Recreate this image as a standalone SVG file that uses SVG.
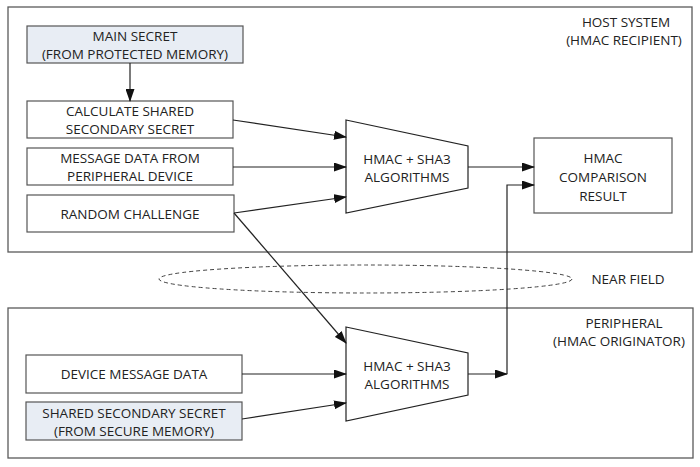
<svg xmlns="http://www.w3.org/2000/svg" width="700" height="467" viewBox="0 0 700 467">
<defs>
<marker id="ah" markerUnits="userSpaceOnUse" markerWidth="13" markerHeight="9" viewBox="0 0 13 9" refX="12" refY="4.5" orient="auto">
<path d="M0,0 L13,4.5 L0,9 z" fill="#111"/>
</marker>
<style>
.frame{fill:none;stroke:#5a5a5a;stroke-width:1.3}
.box{fill:#fff;stroke:#555;stroke-width:1.2}
.sec{fill:#e8edf4;stroke:#555;stroke-width:1.2}
.alg{fill:#fff;stroke:#222;stroke-width:1.2}
.t{font-family:"Open Sans","Noto Sans",sans-serif;font-size:13.5px;fill:#222;text-anchor:middle}
.c{fill:none;stroke:#222;stroke-width:1.2}
.a{marker-end:url(#ah)}
</style>
</defs>
<rect width="700" height="467" fill="#fff"/>
<g id="host-system">
<rect class="frame" x="8" y="7" width="684" height="245"/>
<text class="t" x="626" y="27">HOST SYSTEM</text>
<text class="t" x="624" y="44.5">(HMAC RECIPIENT)</text>
</g>
<g id="peripheral">
<rect class="frame" x="8" y="308" width="685" height="150"/>
<text class="t" x="624" y="327.5">PERIPHERAL</text>
<text class="t" x="619" y="345.5">(HMAC ORIGINATOR)</text>
</g>
<g id="near-field">
<ellipse cx="365.5" cy="279" rx="206.5" ry="14" fill="none" stroke="#444" stroke-width="1" stroke-dasharray="4,3"/>
<text class="t" x="628" y="284">NEAR FIELD</text>
</g>
<g id="main-secret">
<rect class="sec" x="27" y="26" width="216" height="37"/>
<text class="t" x="135" y="40.5">MAIN SECRET</text>
<text class="t" x="135" y="58.5">(FROM PROTECTED MEMORY)</text>
</g>
<g id="calc-shared">
<rect class="box" x="27" y="101" width="206" height="37"/>
<text class="t" x="130" y="115.5">CALCULATE SHARED</text>
<text class="t" x="130" y="133.5">SECONDARY SECRET</text>
</g>
<g id="message-data">
<rect class="box" x="27" y="148" width="206" height="37"/>
<text class="t" x="130" y="162.5">MESSAGE DATA FROM</text>
<text class="t" x="130" y="180.5">PERIPHERAL DEVICE</text>
</g>
<g id="random-challenge">
<rect class="box" x="27" y="195" width="207" height="37"/>
<text class="t" x="130" y="218.5">RANDOM CHALLENGE</text>
</g>
<g id="host-hmac">
<polygon class="alg" points="346,120 468,146 468,188 346,213"/>
<text class="t" x="407" y="163.5">HMAC + SHA3</text>
<text class="t" x="407" y="181.5">ALGORITHMS</text>
</g>
<g id="comparison">
<rect class="box" x="534" y="138" width="138" height="75"/>
<text class="t" x="603" y="163">HMAC</text>
<text class="t" x="603" y="182">COMPARISON</text>
<text class="t" x="603" y="201">RESULT</text>
</g>
<g id="device-message">
<rect class="box" x="26" y="355" width="216" height="38"/>
<text class="t" x="134" y="379">DEVICE MESSAGE DATA</text>
</g>
<g id="shared-secret">
<rect class="sec" x="26" y="402" width="216" height="38"/>
<text class="t" x="134" y="417.5">SHARED SECONDARY SECRET</text>
<text class="t" x="134" y="435.5">(FROM SECURE MEMORY)</text>
</g>
<g id="peripheral-hmac">
<polygon class="alg" points="346,327 468,353 468,395 346,421"/>
<text class="t" x="407" y="370.5">HMAC + SHA3</text>
<text class="t" x="407" y="388.5">ALGORITHMS</text>
</g>
<g id="connectors">
<line class="c a" x1="130" y1="63" x2="130" y2="101"/>
<line class="c a" x1="233" y1="120" x2="346" y2="137"/>
<line class="c a" x1="233" y1="167" x2="346" y2="167"/>
<line class="c a" x1="234" y1="213" x2="346" y2="197"/>
<line class="c a" x1="234" y1="213" x2="346" y2="343"/>
<line class="c a" x1="468" y1="167" x2="534" y2="167"/>
<line class="c a" x1="468" y1="374" x2="507" y2="374"/>
<polyline class="c a" points="507,374 507,185 534,185"/>
<line class="c a" x1="242" y1="374" x2="346" y2="374"/>
<line class="c a" x1="242" y1="419" x2="346" y2="403"/>
</g>
</svg>
